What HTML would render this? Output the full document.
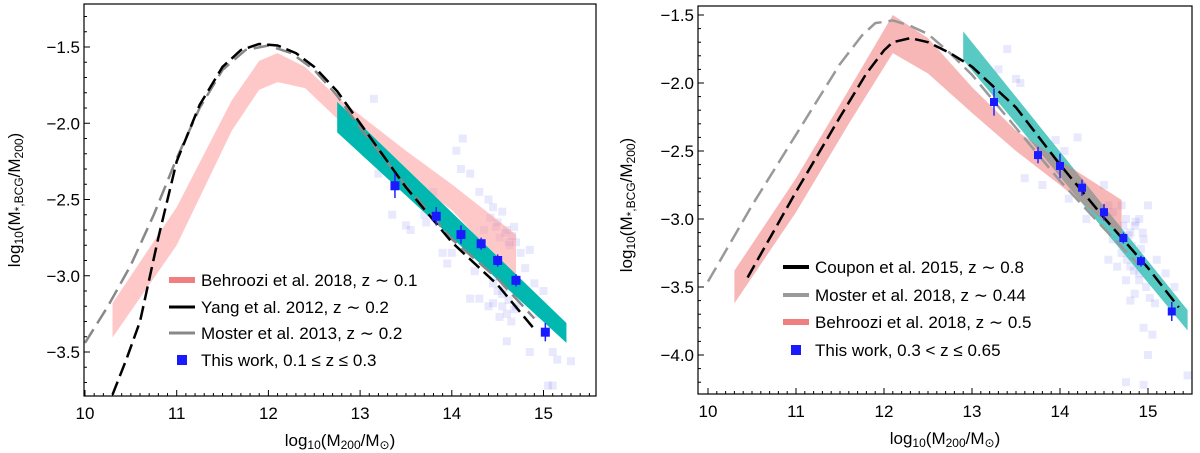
<!DOCTYPE html>
<html><head><meta charset="utf-8"><style>
html,body{margin:0;padding:0;background:#fff;}
svg{display:block;font-family:"Liberation Sans","DejaVu Sans",sans-serif;}
</style></head><body>
<svg id="fig" width="1200" height="453" viewBox="0 0 1200 453" xmlns="http://www.w3.org/2000/svg"></svg>
<script>
// ===== Left panel data =====
const L_behX=[10.3,11.0,11.6,11.9,12.1,12.4,12.75,13.5,14.0,14.7];
const L_behUp=[-3.18,-2.55,-1.85,-1.59,-1.54,-1.63,-1.83,-2.18,-2.4,-2.73];
const L_behLo=[-3.405,-2.8,-2.05,-1.78,-1.73,-1.77,-1.97,-2.34,-2.57,-3.02];
const L_yangX=[10.3,10.45,10.6,10.8,11.0,11.25,11.5,11.7,11.9,12.1,12.3,12.5,12.75,13.0,13.5,14.0,14.5,14.9];
const L_yangY=[-3.78,-3.55,-3.3,-2.75,-2.25,-1.88,-1.63,-1.52,-1.48,-1.49,-1.54,-1.63,-1.79,-2.0,-2.42,-2.78,-3.06,-3.35];
const L_mosX=[10.0,10.25,10.5,10.75,11.0,11.25,11.5,11.75,12.0,12.25,12.5,12.75,13.0,13.5,14.0,14.5,14.9];
const L_mosY=[-3.44,-3.2,-2.93,-2.6,-2.23,-1.9,-1.65,-1.52,-1.49,-1.54,-1.65,-1.82,-2.03,-2.41,-2.76,-3.02,-3.28];
const L_cyX=[12.75,15.25];
const L_cyUp=[-1.86,-3.31];
const L_cyLo=[-2.06,-3.44];
const L_ptX=[13.38,13.83,14.1,14.32,14.5,14.7,15.02];
const L_ptY=[-2.41,-2.61,-2.73,-2.79,-2.9,-3.03,-3.37];
const L_ptE=[0.08,0.06,0.06,0.04,0.04,0.04,0.06];
const L_scX=[13.15,13.2,13.35,13.8,14.05,14.12,14.1,14.2,13.7,13.5,13.55,13.72,13.9,14.3,14.4,14.35,14.45,14.5,14.55,14.6,14.62,14.7,14.68,14.75,14.8,14.85,14.3,14.2,14.4,14.45,14.5,14.55,14.6,14.65,14.7,14.9,14.95,15.0,15.1,15.15,15.3,14.6,14.85,15.05,15.1,14.0,13.95,14.25,14.5,14.6,14.42,14.48,14.52,14.58,14.63,14.66,14.55,14.45,14.62,14.68,14.52,14.58];
const L_scY=[-1.84,-2.33,-2.6,-2.45,-2.18,-2.1,-2.3,-2.33,-2.6,-2.67,-2.7,-2.65,-2.85,-2.45,-2.5,-2.7,-2.55,-2.65,-2.58,-2.7,-2.78,-2.78,-2.68,-2.85,-2.95,-2.83,-3.15,-3.15,-3.2,-3.05,-3.1,-3.2,-3.25,-3.3,-3.2,-3.05,-3.25,-3.1,-3.5,-3.55,-3.56,-3.43,-3.5,-3.72,-3.72,-2.85,-2.92,-2.97,-3.0,-3.05,-2.62,-2.68,-2.75,-2.72,-2.8,-2.74,-3.12,-3.18,-3.16,-3.22,-3.27,-3.08];

// ===== Right panel data =====
const R_behX=[10.3,11.0,11.6,12.1,12.5,13.0,13.5,14.0,14.7];
const R_behUp=[-3.38,-2.7,-2.05,-1.5,-1.67,-2.03,-2.35,-2.57,-2.86];
const R_behLo=[-3.62,-2.95,-2.3,-1.78,-1.93,-2.22,-2.5,-2.75,-3.12];
const R_coupX=[10.45,11.0,11.5,11.8,12.0,12.1,12.3,12.5,12.75,13.0,13.5,14.0,14.5,15.0,15.35];
const R_coupY=[-3.43,-2.8,-2.25,-1.93,-1.76,-1.7,-1.67,-1.7,-1.78,-1.88,-2.18,-2.6,-2.99,-3.36,-3.65];
const R_mosX=[10.0,10.5,11.0,11.5,11.75,11.9,12.1,12.3,12.5,12.75,13.0,13.5,14.0,14.5,14.9];
const R_mosY=[-3.46,-2.9,-2.38,-1.86,-1.65,-1.56,-1.54,-1.58,-1.64,-1.78,-1.94,-2.33,-2.72,-3.07,-3.34];
const R_cyX=[12.9,15.45];
const R_cyUp=[-1.62,-3.67];
const R_cyLo=[-1.83,-3.82];
const R_ptX=[13.25,13.75,14.0,14.25,14.5,14.72,14.92,15.27];
const R_ptY=[-2.14,-2.53,-2.61,-2.77,-2.95,-3.14,-3.31,-3.68];
const R_ptE=[0.1,0.06,0.09,0.06,0.06,0.04,0.04,0.07];
const R_scX=[13.4,13.5,13.55,13.65,13.7,13.8,13.9,13.95,14.05,14.1,14.2,14.3,14.4,14.5,14.55,14.6,14.7,14.75,14.8,14.85,14.9,14.95,15.0,14.7,14.8,14.9,14.75,14.85,15.1,15.2,15.3,15.05,15.45,14.8,14.65,14.55,14.6,14.95,15.0,13.3,13.6,14.75,14.95,14.72,14.78,14.82,14.88,14.92,14.76,14.84,14.9,14.98,15.02,14.7,14.86,14.8,14.94,15.08];
const R_scY=[-1.75,-1.97,-2.0,-2.3,-2.35,-2.75,-2.55,-2.42,-2.5,-2.85,-2.4,-3.0,-2.95,-2.75,-2.9,-2.95,-2.9,-3.0,-3.1,-3.05,-3.0,-3.15,-2.9,-3.25,-3.35,-3.4,-3.45,-3.55,-3.3,-3.4,-3.5,-3.85,-4.15,-3.6,-3.35,-3.3,-3.15,-3.8,-4.0,-1.9,-2.7,-4.2,-4.22,-3.05,-3.12,-3.2,-3.28,-3.22,-3.3,-3.38,-3.45,-3.5,-3.58,-3.15,-3.02,-3.24,-3.1,-3.62];

const svg=document.getElementById('fig');
const NS='http://www.w3.org/2000/svg';
function mk(tag,attrs,parent){const e=document.createElementNS(NS,tag);for(const k in attrs)e.setAttribute(k,attrs[k]);(parent||svg).appendChild(e);return e;}

function panel(cfg){
  const g=mk('g',{});
  
  
  const sx=v=>cfg.x0+(v-10)*cfg.kx;
  const sy=v=>cfg.y0-(v+1.5)*cfg.ky;
  const clipId=cfg.name+'-clip';
  const defs=mk('defs',{},g);
  const cp=mk('clipPath',{id:clipId},defs);
  mk('rect',{x:cfg.L,y:cfg.T,width:cfg.R-cfg.L,height:cfg.B-cfg.T},cp);
  const plot=mk('g',{'clip-path':'url(#'+clipId+')'},g);
  cfg.scX.forEach((x,i)=>{
    const r=mk('rect',{x:sx(x)-4,y:sy(cfg.scY[i])-4,width:8,height:8,fill:'#3333ee','fill-opacity':0.11},plot);
    
    
  });
  function band(xs,up,lo,fill,op,name){
    let d='M'+xs.map((x,i)=>sx(x)+','+sy(up[i])).join('L');
    for(let i=xs.length-1;i>=0;i--)d+='L'+sx(xs[i])+','+sy(lo[i]);
    const p=mk('path',{d:d+'Z',fill:fill,'fill-opacity':op},plot);
    
    
  }
  function line(xs,ys,col,w,dash,name){
    const p=mk('path',{d:'M'+xs.map((x,i)=>sx(x)+','+sy(ys[i])).join('L'),fill:'none',stroke:col,'stroke-width':w,'stroke-dasharray':dash,'stroke-linejoin':'round'},plot);
    
    
  }
  cfg.draw(band,line);
  cfg.ptX.forEach((x,i)=>{
    const e=mk('line',{x1:sx(x),x2:sx(x),y1:sy(cfg.ptY[i]+cfg.ptE[i]),y2:sy(cfg.ptY[i]-cfg.ptE[i]),stroke:'#2222ff','stroke-width':1.5},plot);
    
    
    const r=mk('rect',{x:sx(x)-cfg.ps/2,y:sy(cfg.ptY[i])-cfg.ps/2,width:cfg.ps,height:cfg.ps,fill:'#1a1aff'},plot);
    
    
  });
  const fr=mk('rect',{x:cfg.L,y:cfg.T,width:cfg.R-cfg.L,height:cfg.B-cfg.T,fill:'none',stroke:'#000','stroke-width':1.2},g);
  
  
  for(let t=100;t<=155;t++){const v=t/10;const X=sx(v);if(X<cfg.L||X>cfg.R)continue;
    const maj=t%10===0;mk('line',{x1:X,x2:X,y1:cfg.B,y2:cfg.B-(maj?6:3),stroke:'#000','stroke-width':1},g);
    if(maj){const tx=mk('text',{x:X,y:cfg.xl,'font-size':17,'text-anchor':'middle'},g);tx.textContent=String(t/10);
      
      }
  }
  for(let t=-10;t>=-45;t--){const v=t/10;const Y=sy(v);if(Y<cfg.T||Y>cfg.B)continue;
    const maj=t%5===0;mk('line',{x1:cfg.L,x2:cfg.L+(maj?6:3),y1:Y,y2:Y,stroke:'#000','stroke-width':1},g);
    if(maj){const tx=mk('text',{x:cfg.L-4,y:Y+6,'font-size':17,'text-anchor':'end'},g);tx.textContent='\u2212'+(Math.abs(v)).toFixed(1);
      
      }
  }
  const xt=mk('text',{x:(cfg.L+cfg.R)/2,y:cfg.xt,'font-size':17,'text-anchor':'middle'},g);
  xt.innerHTML='log<tspan font-size="12" dy="3">10</tspan><tspan dy="-3">(M</tspan><tspan font-size="12" dy="3">200</tspan><tspan dy="-3">/M</tspan><tspan font-size="12" dy="3">\u2299</tspan><tspan dy="-3">)</tspan>';
  
  
  const yt=mk('text',{x:0,y:0,'font-size':17,'text-anchor':'middle',transform:'translate('+cfg.ytx+','+cfg.yty+') rotate(-90)'},g);
  yt.innerHTML='log<tspan font-size="12" dy="3">10</tspan><tspan dy="-3">(M</tspan><tspan font-size="12" dy="3">*,BCG</tspan><tspan dy="-3">/M</tspan><tspan font-size="12" dy="3">200</tspan><tspan dy="-3">)</tspan>';
  
  
  cfg.legend.forEach((it,i)=>{
    const y=cfg.legY[i];
    if(it.type==='line'){const l=mk('line',{x1:cfg.legX,x2:cfg.legX+26,y1:y,y2:y,stroke:it.col,'stroke-width':it.w},g);
      
      }
    else{const r=mk('rect',{x:cfg.legX+8,y:y-5,width:10,height:10,fill:'#1a1aff'},g);
      
      }
    const tx=mk('text',{x:cfg.legX+32,y:y+6,'font-size':17},g);tx.textContent=it.label;
    
    
  });
}

panel({name:'left-panel',x0:85,kx:91.7,y0:47,ky:152.5,L:84,R:596,T:4,B:396,xl:419,xt:446,ytx:20,yty:200,
  scX:L_scX,scY:L_scY,ptX:L_ptX,ptY:L_ptY,ptE:L_ptE,ps:9,
  draw:(band,line)=>{
    band(L_behX,L_behUp,L_behLo,'#ff9a9a',0.55,'behroozi-band');
    band(L_cyX,L_cyUp,L_cyLo,'#00b8b0',1,'cyan-band');
    line(L_mosX,L_mosY,'#888',2.5,'16,7','moster-2013-line');
    line(L_yangX,L_yangY,'#000',2.5,'14,6','yang-2012-line');
  },
  legX:169,
  legY:[280,307,333,360],
  legend:[{type:'line',col:'#f08080',w:6,label:'Behroozi et al. 2018, z \u223c 0.1'},
          {type:'line',col:'#000',w:3,label:'Yang et al. 2012, z \u223c 0.2'},
          {type:'line',col:'#888',w:3,label:'Moster et al. 2013, z \u223c 0.2'},
          {type:'pt',label:'This work, 0.1 \u2264 z \u2264 0.3'}]
});

panel({name:'right-panel',x0:708,kx:88,y0:15,ky:136,L:698,R:1192,T:6,B:394,xl:417,xt:444,ytx:632,yty:205,
  scX:R_scX,scY:R_scY,ptX:R_ptX,ptY:R_ptY,ptE:R_ptE,ps:8,
  draw:(band,line)=>{
    band(R_cyX,R_cyUp,R_cyLo,'#3cc0b8',0.85,'cyan-band');
    band(R_behX,R_behUp,R_behLo,'#f07070',0.5,'behroozi-band');
    line(R_mosX,R_mosY,'#999',2.5,'16,7','moster-2018-line');
    line(R_coupX,R_coupY,'#000',2.5,'14,6','coupon-2015-line');
  },
  legX:783,
  legY:[267,295,322,350],
  legend:[{type:'line',col:'#000',w:4,label:'Coupon et al. 2015, z \u223c 0.8'},
          {type:'line',col:'#999',w:4,label:'Moster et al. 2018, z \u223c 0.44'},
          {type:'line',col:'#f08080',w:6,label:'Behroozi et al. 2018, z \u223c 0.5'},
          {type:'pt',label:'This work, 0.3 < z \u2264 0.65'}]
});
</script>
</body></html>
